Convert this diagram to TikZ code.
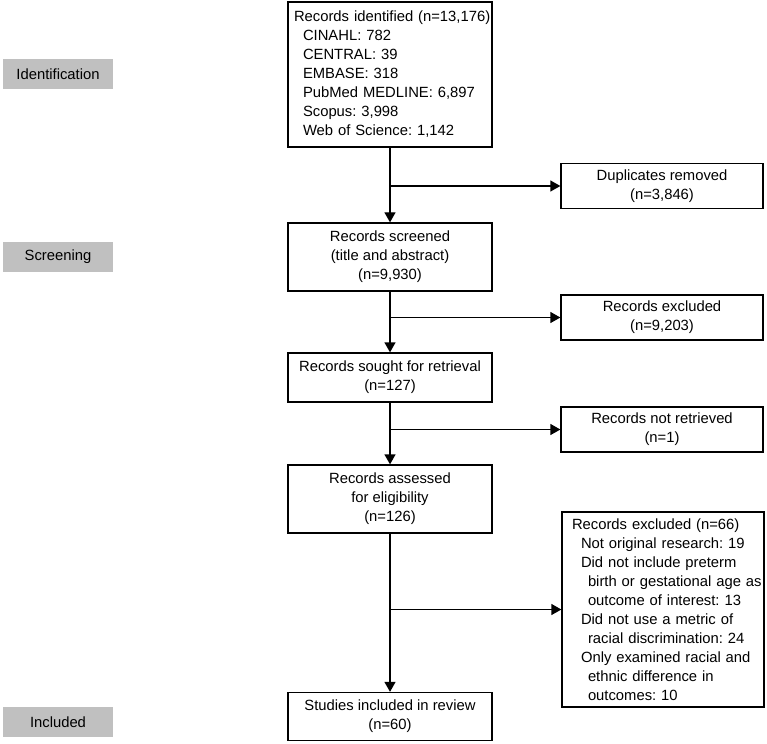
\documentclass[tikz,border=0pt]{standalone}
\usepackage{fontspec}
\setmainfont{Liberation Sans}
\usetikzlibrary{arrows.meta}

\definecolor{stagegray}{RGB}{192,192,192}

\begin{document}
\frenchspacing
\begin{tikzpicture}[
    x=1pt, y=-1pt,
    line width=1.3pt,
    every node/.style={font=\fontsize{14.8}{19}\selectfont},
    >={Triangle[length=10pt,width=11pt]},
    stage/.style={fill=stagegray, minimum width=110pt, minimum height=30pt, inner sep=0pt},
    box/.style={draw, align=center, minimum width=204pt, inner sep=0pt},
    sidebox/.style={draw, align=center, minimum width=202pt, minimum height=45pt, inner sep=0pt}
]

\useasboundingbox (0,0) rectangle (767,743);

% Stage labels
\node[stage] (idlab)  at (58,74)  {Identification};
\node[stage] (scrlab) at (58,257) {Screening};
\node[stage] (inclab) at (58,722) {Included};

% Main column
\node[box, align=left, text width=204pt, minimum height=145pt] (ident) at (390,74.5)
  {\hspace*{6pt}Records identified (n=13,176)\\
   \hspace*{15pt}CINAHL: 782\\
   \hspace*{15pt}CENTRAL: 39\\
   \hspace*{15pt}EMBASE: 318\\
   \hspace*{15pt}PubMed MEDLINE: 6,897\\
   \hspace*{15pt}Scopus: 3,998\\
   \hspace*{15pt}Web of Science: 1,142};
\node[box, minimum height=68pt] (screen) at (390,257)
  {Records screened\\(title and abstract)\\(n=9,930)};
\node[box, minimum height=49pt] (sought) at (390,377.5)
  {Records sought for retrieval\\(n=127)};
\node[box, minimum height=68pt] (assess) at (390,499)
  {Records assessed\\for eligibility\\(n=126)};
\node[box, minimum height=48pt] (incl) at (390,716.5)
  {Studies included in review\\(n=60)};

% Side column
\node[sidebox] (dup)   at (662,186)   {Duplicates removed\\(n=3,846)};
\node[sidebox] (excl)  at (662,317.5) {Records excluded\\(n=9,203)};
\node[sidebox] (notret) at (662,429.5) {Records not retrieved\\(n=1)};
\node[sidebox, align=left, text width=200pt, inner xsep=1pt, minimum height=195pt] (elig) at (663,609.5)
  {\hspace*{9pt}Records excluded (n=66)\\
   \hspace*{18pt}Not original research: 19\\
   \hspace*{18pt}Did not include preterm\\
   \hspace*{25pt}birth or gestational age as\\
   \hspace*{25pt}outcome of interest: 13\\
   \hspace*{18pt}Did not use a metric of\\
   \hspace*{25pt}racial discrimination: 24\\
   \hspace*{18pt}Only examined racial and\\
   \hspace*{25pt}ethnic difference in\\
   \hspace*{25pt}outcomes: 10};

% Flow down
\draw[->] (ident) -- (screen);
\draw[->] (screen) -- (sought);
\draw[->] (sought) -- (assess);
\draw[->] (assess) -- (incl);

% Branches to the side
\draw[->] (ident.south |- dup) -- (dup);
\draw[->] (screen.south |- excl) -- (excl);
\draw[->] (sought.south |- notret) -- (notret);
\draw[->] (assess.south |- elig) -- (elig);

\end{tikzpicture}
\end{document}
